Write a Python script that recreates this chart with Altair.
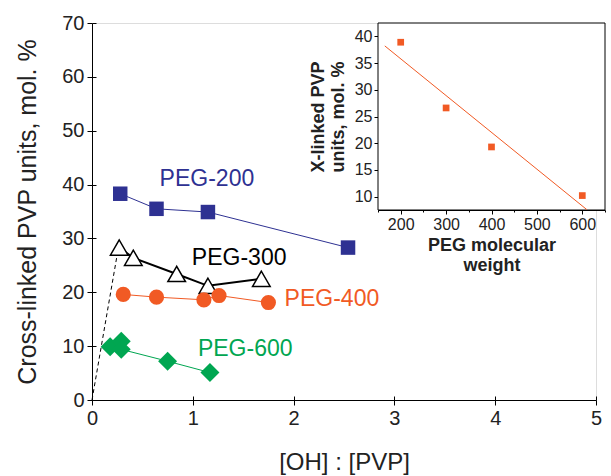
import altair as alt
import pandas as pd

# ---- main panel data ----
peg200_x = [0.28, 0.64, 1.15, 2.54]
peg200_y = [38.3, 35.5, 34.9, 28.3]
peg300_x = [0.27, 0.41, 0.84, 1.15, 1.68]
peg300_y = [28.3, 26.4, 23.4, 21.2, 22.5]
peg400_x = [0.31, 0.64, 1.11, 1.26, 1.75]
peg400_y = [19.6, 19.1, 18.6, 19.4, 18.1]
peg600_x = [0.18, 0.29, 0.29, 0.75, 1.17]
peg600_y = [9.9, 10.9, 9.4, 7.2, 5.1]
guide_x = [0.0, 0.25]
guide_y = [0.0, 27.0]

series_names = ["PEG-200", "PEG-300", "PEG-400", "PEG-600"]
label_x = [1.14, 1.46, 2.38, 1.52]
label_y = [41.1, 26.4, 18.7, 9.5]

# ---- inset data ----
peg_mw = [200, 300, 400, 600]
xlinked = [38.9, 26.6, 19.3, 10.2]

BLUE = "#2E3192"
ORANGE = "#F15A24"
GREEN = "#00A651"
BLACK = "#000000"
FONT = "Liberation Sans"

W, H = 504, 377

xs = alt.Scale(domain=[0, 5], nice=False, zero=False)
ys = alt.Scale(domain=[0, 70], nice=False, zero=False)

x_major = [0, 1, 2, 3, 4, 5]
y_major = [0, 10, 20, 30, 40, 50, 60, 70]

x_axis = alt.Axis(
    title="[OH] : [PVP]", values=[i * 0.5 for i in range(11)], format="d",
    labelExpr="datum.value % 1 === 0 ? datum.label : ''",
    tickSize={"condition": {"test": "datum.value % 1 === 0", "value": 5}, "value": 4},
    labelFontSize=20, titleFontSize=24, labelFont=FONT, titleFont=FONT,
    titleFontWeight="normal", labelColor="#222", titleColor="#222",
    domainColor=BLACK, tickColor=BLACK, grid=False, labelPadding=3, titlePadding=22,
    labelFlush=False,
)
y_axis = alt.Axis(
    title="Cross-linked PVP units, mol. %", values=[i * 5 for i in range(15)],
    labelExpr="datum.value % 10 === 0 ? datum.label : ''",
    tickSize={"condition": {"test": "datum.value % 10 === 0", "value": 5}, "value": 4},
    labelFontSize=20, titleFontSize=25, labelFont=FONT, titleFont=FONT,
    titleFontWeight="normal", labelColor="#222", titleColor="#222",
    domainColor=BLACK, tickColor=BLACK, grid=False, labelPadding=3, titlePadding=21,
    labelFlush=False,
)


def df(xv, yv):
    return pd.DataFrame({"x": xv, "y": yv, "i": list(range(len(xv)))})


def line(xv, yv, color, width, dash=None):
    kw = dict(color=color, strokeWidth=width)
    if dash:
        kw["strokeDash"] = dash
    return alt.Chart(df(xv, yv)).mark_line(**kw).encode(
        x=alt.X("x:Q", scale=xs, axis=x_axis),
        y=alt.Y("y:Q", scale=ys, axis=y_axis),
        order="i:Q",
    )


def pts(xv, yv, shape, size, fill, stroke, sw=0):
    return alt.Chart(df(xv, yv)).mark_point(
        shape=shape, size=size, filled=True, fill=fill, stroke=stroke,
        strokeWidth=sw, opacity=1,
    ).encode(x=alt.X("x:Q", scale=xs), y=alt.Y("y:Q", scale=ys))


labels = pd.DataFrame({
    "name": series_names, "x": label_x, "y": label_y,
    "c": [BLUE, BLACK, ORANGE, GREEN],
})
text = alt.Chart(labels).mark_text(fontSize=23, font=FONT).encode(
    x=alt.X("x:Q", scale=xs), y=alt.Y("y:Q", scale=ys),
    text="name:N", color=alt.Color("c:N", scale=None),
)

main = alt.layer(
    line(guide_x, guide_y, BLACK, 1, [4, 3]),
    line(peg200_x, peg200_y, BLUE, 1),
    line(peg300_x, peg300_y, BLACK, 2),
    line(peg400_x, peg400_y, ORANGE, 1),
    line(peg600_x, peg600_y, GREEN, 1),
    pts(peg200_x, peg200_y, "square", 210, BLUE, BLUE),
    pts(peg300_x, peg300_y, "triangle-up", 310, "white", BLACK, 1.5),
    pts(peg400_x, peg400_y, "circle", 230, ORANGE, ORANGE),
    pts(peg600_x, peg600_y, "diamond", 360, GREEN, GREEN),
    text,
)

# inward half of the major ticks (ticks cross the axis lines)
inner_ticks = alt.Chart(df(guide_x, guide_y)).mark_point(opacity=0).encode(
    x=alt.X("x:Q", scale=xs, axis=alt.Axis(
        orient="top", offset=-H, values=x_major, labels=False, domain=False,
        title=None, tickSize=4, tickColor=BLACK, grid=False)),
    y=alt.Y("y:Q", scale=ys, axis=alt.Axis(
        orient="right", offset=-W, values=y_major, labels=False, domain=False,
        title=None, tickSize=4, tickColor=BLACK, grid=False)),
)

# ---- inset ----
ix0, ix1 = 286, 513
iy_bottom = 187
ixs = alt.Scale(domain=[150, 650], range=[ix0, ix1], nice=False, zero=False)
iys = alt.Scale(domain=[7.5, 42.5], range=[iy_bottom, 0], nice=False, zero=False)

ix_axis = alt.Axis(
    orient="bottom", offset=-(H - iy_bottom), title=["PEG molecular", "weight"],
    values=[150 + 50 * i for i in range(11)],
    labelExpr="datum.value % 100 === 0 && datum.value >= 200 && datum.value <= 600 ? datum.label : ''",
    tickSize={"condition": {"test": "datum.value % 100 === 0", "value": 4}, "value": 2},
    labelFontSize=16, titleFontSize=18, labelFont=FONT, titleFont=FONT,
    titleFontWeight="bold", labelColor="#222", titleColor="#222",
    domainColor=BLACK, tickColor=BLACK, grid=False, labelPadding=2, titlePadding=4,
    labelFlush=False,
)
iy_axis = alt.Axis(
    orient="left", offset=-ix0, title=["X-linked PVP", "units, mol. %"],
    values=[10 + 2.5 * i for i in range(13)],
    labelExpr="datum.value % 5 === 0 ? datum.label : ''",
    tickSize={"condition": {"test": "datum.value % 5 === 0", "value": 4}, "value": 2},
    labelFontSize=16, titleFontSize=18, labelFont=FONT, titleFont=FONT,
    titleFontWeight="bold", labelColor="#222", titleColor="#222",
    domainColor=BLACK, tickColor=BLACK, grid=False, labelPadding=2, titlePadding=7,
    labelFlush=False,
)

inset_df = pd.DataFrame({"mw": peg_mw, "xl": xlinked})

frame = alt.Chart(pd.DataFrame({"a": [0]})).mark_rect(
    fill="white", stroke=BLACK, strokeWidth=1
).encode(
    x=alt.X(datum=150, scale=ixs, axis=ix_axis),
    x2=alt.X2(datum=650),
    y=alt.Y(datum=7.5, scale=iys, axis=iy_axis),
    y2=alt.Y2(datum=42.5),
)
fit = alt.Chart(inset_df).transform_regression(
    "mw", "xl", extent=[165, 610]
).mark_line(color=ORANGE, strokeWidth=1).encode(
    x=alt.X("mw:Q", scale=ixs), y=alt.Y("xl:Q", scale=iys)
)
ipts = alt.Chart(inset_df).mark_point(
    shape="square", size=45, filled=True, fill=ORANGE, stroke=ORANGE, strokeWidth=0, opacity=1
).encode(x=alt.X("mw:Q", scale=ixs), y=alt.Y("xl:Q", scale=iys))

inset = alt.layer(frame, fit, ipts)

chart = alt.layer(main, inner_ticks, inset).resolve_scale(
    x="independent", y="independent"
).properties(
    width=W, height=H,
    padding={"left": 92, "top": 23, "right": 15, "bottom": 76},
    autosize=alt.AutoSizeParams(type="none"),
).configure_view(stroke=None).configure(background="white")

chart.save("out.html", embed_options={"renderer": "svg", "actions": False})
